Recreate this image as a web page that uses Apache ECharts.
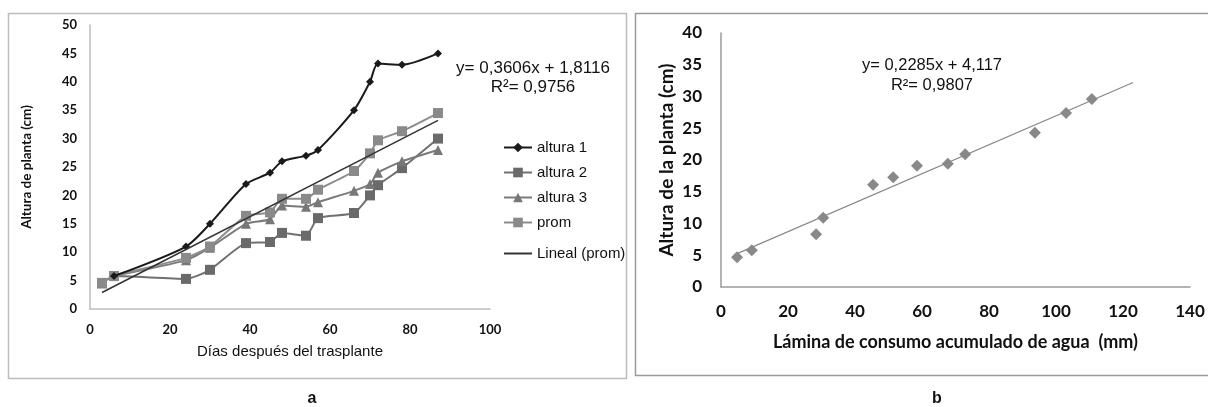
<!DOCTYPE html>
<html><head><meta charset="utf-8">
<script src="https://cdn.jsdelivr.net/npm/echarts@6/dist/echarts.min.js"></script>
<style>html,body{margin:0;padding:0;background:#fff}#c{width:1208px;height:407px}</style>
</head><body><div id="c"></div>
<script>
// Panel a
const daysA1 = [6, 24, 30, 39, 45, 48, 54, 57, 66, 70, 72, 78, 87];
const altura1 = [5.8, 11, 15, 22, 24, 26, 27, 28, 35, 40, 43.2, 43, 45];
const daysA2 = [3, 6, 24, 30, 39, 45, 48, 54, 57, 66, 70, 72, 78, 87];
const altura2 = [4.5, 5.8, 5.3, 6.9, 11.6, 11.8, 13.4, 12.9, 16, 16.9, 20, 21.8, 24.8, 30];
const daysA3 = [6, 24, 30, 39, 45, 48, 54, 57, 66, 70, 72, 78, 87];
const altura3 = [5.8, 8.6, 10.8, 15, 15.8, 18.2, 18, 18.8, 20.8, 22, 24, 26, 28];
const daysProm = [3, 6, 24, 30, 39, 45, 48, 54, 57, 66, 70, 72, 78, 87];
const prom = [4.6, 5.8, 9, 11, 16.4, 17, 19.4, 19.4, 21, 24.3, 27.4, 29.7, 31.3, 34.5];
const trendA = [[3, 2.9], [87, 33.2]];
const legendA = ['altura 1', 'altura 2', 'altura 3', 'prom', 'Lineal (prom)'];
const eqA = ['y= 0,3606x + 1,8116', 'R\u00b2= 0,9756'];
// Panel b
const water = [4.8, 9.2, 28.4, 30.5, 45.4, 51.4, 58.5, 67.7, 72.9, 93.7, 103, 110.7];
const heightB = [4.7, 5.8, 8.3, 10.9, 16.1, 17.3, 19.1, 19.4, 20.9, 24.3, 27.4, 29.6];
const trendB = [[5, 5.3], [123, 32.2]];
const eqB = ['y= 0,2285x + 4,117', 'R\u00b2= 0,9807'];

const zip = (xs, ys) => xs.map((x, i) => [x, ys[i]]);
const chart = echarts.init(document.getElementById('c'));
const tickFont = {fontFamily: 'Lato', fontWeight: 'bold', color: '#111'};
const legendBase = {orient: 'vertical', left: 498, itemWidth: 28, itemHeight: 12,
  textStyle: {fontFamily: 'Liberation Sans', fontSize: 15, color: '#111'}};
chart.setOption({
  animation: false,
  backgroundColor: '#fff',
  grid: [
    {left: 90, top: 25, width: 400, height: 284},
    {left: 721, top: 33, width: 469, height: 254}
  ],
  xAxis: [
    {gridIndex: 0, type: 'value', min: 0, max: 100, interval: 20,
     axisLine: {lineStyle: {color: '#bdbdbd', width: 1.5}}, axisTick: {show: false}, splitLine: {show: false},
     axisLabel: Object.assign({fontSize: 13, margin: 14}, tickFont),
     name: 'Días después del trasplante', nameLocation: 'middle', nameGap: 35,
     nameTextStyle: {fontFamily: 'Liberation Sans', fontSize: 15, color: '#111'}},
    {gridIndex: 1, type: 'value', min: 0, max: 140, interval: 20,
     axisLine: {lineStyle: {color: '#9a9a9a', width: 1.5}}, axisTick: {show: false}, splitLine: {show: false},
     axisLabel: Object.assign({fontSize: 17, margin: 16}, tickFont),
     name: 'Lámina de consumo acumulado de agua  (mm)', nameLocation: 'middle', nameGap: 46,
     nameTextStyle: {fontFamily: 'Lato', fontWeight: 'bold', fontSize: 18, color: '#111'}}
  ],
  yAxis: [
    {gridIndex: 0, type: 'value', min: 0, max: 50, interval: 5,
     axisLine: {show: true, lineStyle: {color: '#bdbdbd', width: 1.5}}, axisTick: {show: false}, splitLine: {show: false},
     axisLabel: Object.assign({fontSize: 13, margin: 13}, tickFont),
     name: 'Altura de planta (cm)', nameLocation: 'middle', nameGap: 56,
     nameTextStyle: {fontFamily: 'Lato', fontWeight: 'bold', fontSize: 13.5, color: '#111'}},
    {gridIndex: 1, type: 'value', min: 0, max: 40, interval: 5,
     axisLine: {show: true, lineStyle: {color: '#9a9a9a', width: 1.5}}, axisTick: {show: false}, splitLine: {show: false},
     axisLabel: Object.assign({fontSize: 17, margin: 19}, tickFont),
     name: 'Altura de la planta (cm)', nameLocation: 'middle', nameGap: 45,
     nameTextStyle: {fontFamily: 'Lato', fontWeight: 'bold', fontSize: 19, color: '#111'}}
  ],
  legend: [
    Object.assign({top: 135, itemGap: 10, data: legendA.slice(0, 4)}, legendBase),
    Object.assign({top: 241, data: [{name: legendA[4], itemStyle: {opacity: 0}}]}, legendBase)
  ],
  series: [
    {name: legendA[0], type: 'line', xAxisIndex: 0, yAxisIndex: 0, data: zip(daysA1, altura1),
     symbol: 'diamond', symbolSize: 8, smooth: 0.25, lineStyle: {color: '#1a1a1a', width: 2}, itemStyle: {color: '#1a1a1a'}, z: 5},
    {name: legendA[1], type: 'line', xAxisIndex: 0, yAxisIndex: 0, data: zip(daysA2, altura2),
     symbol: 'rect', symbolSize: 10, smooth: 0.2, lineStyle: {color: '#707070', width: 2}, itemStyle: {color: '#6a6a6a'}},
    {name: legendA[2], type: 'line', xAxisIndex: 0, yAxisIndex: 0, data: zip(daysA3, altura3),
     symbol: 'triangle', symbolSize: 10, smooth: 0.2, lineStyle: {color: '#7a7a7a', width: 2}, itemStyle: {color: '#777'}},
    {name: legendA[3], type: 'line', xAxisIndex: 0, yAxisIndex: 0, data: zip(daysProm, prom),
     symbol: 'rect', symbolSize: 10, smooth: 0.2, lineStyle: {color: '#8c8c8c', width: 2}, itemStyle: {color: '#8a8a8a'}},
    {name: legendA[4], type: 'line', xAxisIndex: 0, yAxisIndex: 0, data: trendA,
     symbol: 'none', lineStyle: {color: '#333', width: 1.5}, itemStyle: {color: '#333'}, z: 6},
    {name: 'obs', type: 'scatter', xAxisIndex: 1, yAxisIndex: 1, data: zip(water, heightB),
     symbol: 'diamond', symbolSize: 12, itemStyle: {color: '#6b6b6b'}},
    {name: 'fit', type: 'line', xAxisIndex: 1, yAxisIndex: 1, data: trendB,
     symbol: 'none', lineStyle: {color: '#888', width: 1.2}}
  ],
  graphic: [
    {type: 'rect', shape: {x: 8.5, y: 13.5, width: 618, height: 365}, style: {fill: 'none', stroke: '#bdbdbd', lineWidth: 1.5}, z: -1},
    {type: 'rect', shape: {x: 635.5, y: 13.5, width: 580, height: 362}, style: {fill: 'none', stroke: '#9a9a9a', lineWidth: 1.5}, z: -1},
    {type: 'text', x: 533, y: 68, style: {text: eqA[0], font: '17px "Liberation Sans"', fill: '#111', align: 'center', verticalAlign: 'middle'}},
    {type: 'text', x: 533, y: 87, style: {text: eqA[1], font: '17px "Liberation Sans"', fill: '#111', align: 'center', verticalAlign: 'middle'}},
    {type: 'text', x: 932, y: 65, style: {text: eqB[0], font: '16.5px "Liberation Sans"', fill: '#111', align: 'center', verticalAlign: 'middle'}},
    {type: 'text', x: 932, y: 85, style: {text: eqB[1], font: '16.5px "Liberation Sans"', fill: '#111', align: 'center', verticalAlign: 'middle'}},
    {type: 'text', x: 312, y: 399, style: {text: 'a', font: 'bold 16px "Liberation Sans"', fill: '#111', align: 'center', verticalAlign: 'middle'}},
    {type: 'text', x: 937, y: 399, style: {text: 'b', font: 'bold 16px "Liberation Sans"', fill: '#111', align: 'center', verticalAlign: 'middle'}}
  ]
});
</script></body></html>
